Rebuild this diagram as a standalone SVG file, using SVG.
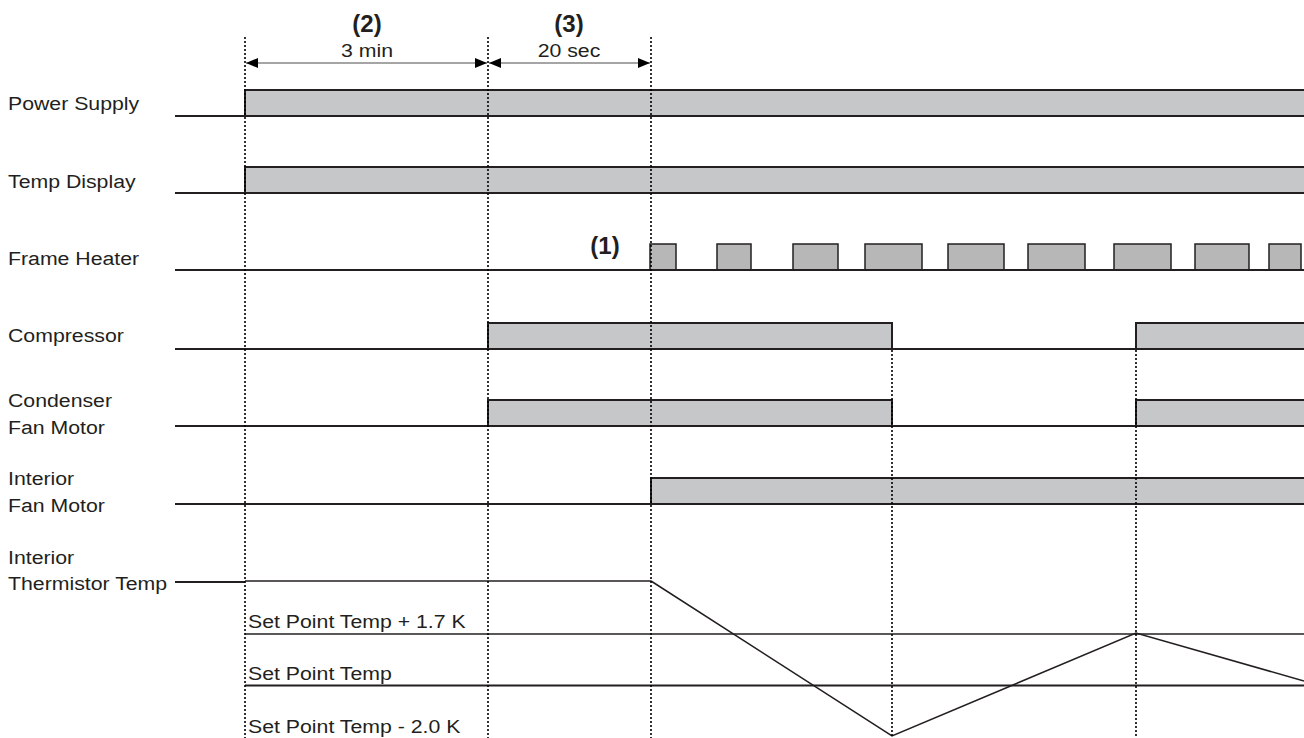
<svg xmlns="http://www.w3.org/2000/svg" width="1304" height="738" viewBox="0 0 1304 738">
  <defs>
    <style>
      .lbl { font-family: "Liberation Sans", Arial, sans-serif; font-size: 19px; fill: #231f20; }
      .tag { font-family: "Liberation Sans", Arial, sans-serif; font-size: 24px; font-weight: bold; fill: #231f20; text-anchor: middle; }
      .mid { text-anchor: middle; }
      .base { stroke: #231f20; stroke-width: 2; fill: none; }
      .bar { fill: #c6c7c9; stroke: #231f20; stroke-width: 2; }
      .pulse { fill: #b7b7b7; stroke: #231f20; stroke-width: 1.5; }
      .guide { stroke: #000; stroke-width: 1.6; stroke-dasharray: 2 2; fill: none; }
      .dim { stroke: #4d4d4f; stroke-width: 1.2; fill: none; marker-start: url(#arrowL); marker-end: url(#arrowR); }
      .thin { stroke: #231f20; stroke-width: 1.3; fill: none; }
      .temp { stroke: #231f20; stroke-width: 1.5; fill: none; }
    </style>
    <marker id="arrowR" viewBox="0 0 12 10" refX="12" refY="5" markerWidth="12" markerHeight="10" markerUnits="userSpaceOnUse" orient="auto">
      <path d="M0,0 L12,5 L0,10 Z" fill="#000"/>
    </marker>
    <marker id="arrowL" viewBox="0 0 12 10" refX="0" refY="5" markerWidth="12" markerHeight="10" markerUnits="userSpaceOnUse" orient="auto">
      <path d="M12,0 L0,5 L12,10 Z" fill="#000"/>
    </marker>
  </defs>

  <rect width="1304" height="738" fill="#fff"/>

  <!-- time markers -->
  <g id="markers">
    <text class="tag" x="367" y="32">(2)</text>
    <text class="lbl mid" transform="translate(367 57) scale(1.12 1)">3 min</text>
    <text class="tag" x="569" y="32">(3)</text>
    <text class="lbl mid" transform="translate(569 57) scale(1.12 1)">20 sec</text>
    <text class="tag" x="605" y="254">(1)</text>
  </g>

  <!-- signal rows -->
  <g id="power-supply">
    <text class="lbl" transform="translate(8 110) scale(1.12 1)">Power Supply</text>
    <rect class="bar" x="245" y="90" width="1070" height="26"/>
    <line class="base" x1="175" y1="116" x2="1304" y2="116"/>
  </g>

  <g id="temp-display">
    <text class="lbl" transform="translate(8 188) scale(1.12 1)">Temp Display</text>
    <rect class="bar" x="245" y="167" width="1070" height="26"/>
    <line class="base" x1="175" y1="193" x2="1304" y2="193"/>
  </g>

  <g id="frame-heater">
    <text class="lbl" transform="translate(8 265) scale(1.12 1)">Frame Heater</text>
    <rect class="pulse" x="650" y="244" width="26" height="26"/>
    <rect class="pulse" x="717" y="244" width="34" height="26"/>
    <rect class="pulse" x="793" y="244" width="45" height="26"/>
    <rect class="pulse" x="865" y="244" width="57" height="26"/>
    <rect class="pulse" x="948" y="244" width="56" height="26"/>
    <rect class="pulse" x="1028" y="244" width="57" height="26"/>
    <rect class="pulse" x="1114" y="244" width="57" height="26"/>
    <rect class="pulse" x="1195" y="244" width="54" height="26"/>
    <rect class="pulse" x="1269" y="244" width="32" height="26"/>
    <line class="base" x1="175" y1="270" x2="1304" y2="270"/>
  </g>

  <g id="compressor">
    <text class="lbl" transform="translate(8 342) scale(1.12 1)">Compressor</text>
    <rect class="bar" x="488" y="323" width="404" height="26"/>
    <rect class="bar" x="1136" y="323" width="180" height="26"/>
    <line class="base" x1="175" y1="349" x2="1304" y2="349"/>
  </g>

  <g id="condenser-fan">
    <text class="lbl" transform="translate(8 407) scale(1.12 1)">Condenser</text>
    <text class="lbl" transform="translate(8 434) scale(1.12 1)">Fan Motor</text>
    <rect class="bar" x="488" y="400" width="404" height="26"/>
    <rect class="bar" x="1136" y="400" width="180" height="26"/>
    <line class="base" x1="175" y1="426" x2="1304" y2="426"/>
  </g>

  <g id="interior-fan">
    <text class="lbl" transform="translate(8 485) scale(1.12 1)">Interior</text>
    <text class="lbl" transform="translate(8 512) scale(1.12 1)">Fan Motor</text>
    <rect class="bar" x="651" y="478" width="665" height="26"/>
    <line class="base" x1="175" y1="504" x2="1304" y2="504"/>
  </g>

  <g id="thermistor">
    <text class="lbl" transform="translate(8 564) scale(1.12 1)">Interior</text>
    <text class="lbl" transform="translate(8 590) scale(1.12 1)">Thermistor Temp</text>
    <line class="base" x1="175" y1="582" x2="245" y2="582"/>
    <line class="thin" x1="245" y1="581" x2="651" y2="581"/>
    <line class="thin" x1="245" y1="634" x2="1304" y2="634"/>
    <line class="base" x1="245" y1="685.5" x2="1304" y2="685.5"/>
    <text class="lbl" transform="translate(248 628) scale(1.12 1)">Set Point Temp + 1.7 K</text>
    <text class="lbl" transform="translate(248 680) scale(1.12 1)">Set Point Temp</text>
    <text class="lbl" transform="translate(248 733) scale(1.12 1)">Set Point Temp - 2.0 K</text>
    <polyline class="temp" points="651,581 892,736 1136,633 1304,681"/>
  </g>

  <!-- timing guides and duration arrows -->
  <g id="connectors">
    <line class="guide" x1="245" y1="37" x2="245" y2="738"/>
    <line class="guide" x1="488" y1="37" x2="488" y2="738"/>
    <line class="guide" x1="651" y1="37" x2="651" y2="738"/>
    <line class="guide" x1="892" y1="350" x2="892" y2="738"/>
    <line class="guide" x1="1136" y1="350" x2="1136" y2="738"/>
    <line class="dim" x1="246" y1="63" x2="487" y2="63"/>
    <line class="dim" x1="489" y1="63" x2="650" y2="63"/>
  </g>
</svg>
